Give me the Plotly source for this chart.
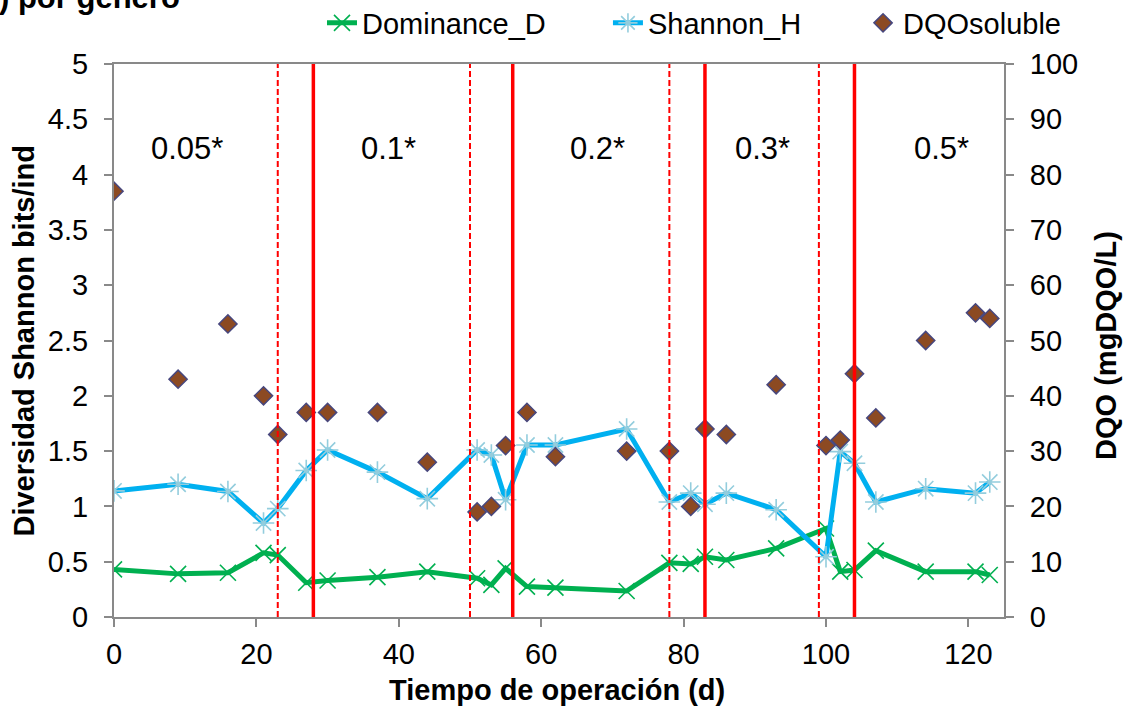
import plotly.graph_objects as go

# ---- data ----
dias = [0, 9, 16, 21, 23, 27, 30, 37, 44, 51, 53, 55, 58, 62, 72, 78, 81, 83, 86, 93,
        100, 102, 104, 107, 114, 121, 123]
dominance_d = [0.43, 0.39, 0.40, 0.58, 0.56, 0.31, 0.33, 0.36, 0.41, 0.35, 0.29, 0.44,
               0.275, 0.265, 0.235, 0.49, 0.48, 0.545, 0.515, 0.62, 0.80, 0.41, 0.425,
               0.60, 0.41, 0.41, 0.38]
shannon_h = [1.14, 1.20, 1.135, 0.85, 0.98, 1.325, 1.51, 1.31, 1.07, 1.51, 1.465, 1.06,
             1.555, 1.555, 1.70, 1.04, 1.12, 1.02, 1.12, 0.97, 0.545, 1.495, 1.39, 1.04,
             1.16, 1.12, 1.22]
dqo_soluble = [77, 43, 53, 40, 33, 37, 37, 37, 28, 19, 20, 31, 37, 29, 30, 30, 20, 34, 33,
               42, 31, 32, 44, 36, 50, 55, 54]

cambio_solido = [28, 56, 83, 104]
cambio_punteado = [23, 50, 78, 99]

etapas = ["0.05*", "0.1*", "0.2*", "0.3*", "0.5*"]
etapas_x = [10.3, 38.6, 67.9, 91.1, 116.2]
etapas_y = 4.24

x_ticks = [0, 20, 40, 60, 80, 100, 120]

FONT = "Liberation Sans, Arial, sans-serif"
GRAY = "#898989"
FS = 29

fig = go.Figure()

fig.add_trace(go.Scatter(
    x=dias, y=dominance_d, name="Dominance_D", mode="lines+markers",
    line=dict(color="#00B050", width=5),
    marker=dict(symbol="x-thin", size=16, color="#00B050",
                line=dict(width=1.6, color="#00B050")),
    legend="legend"))

fig.add_trace(go.Scatter(
    x=dias, y=shannon_h, name="Shannon_H", mode="lines+markers",
    line=dict(color="#00B0F0", width=5),
    marker=dict(symbol="asterisk-open", size=18, color="#93CDDD",
                line=dict(width=1.6, color="#93CDDD")),
    legend="legend2"))

fig.add_trace(go.Scatter(
    x=dias, y=dqo_soluble, name="DQOsoluble", mode="markers", yaxis="y2",
    marker=dict(symbol="diamond", size=14, color="#8C4A22",
                line=dict(width=1.5, color="#47477E")),
    legend="legend3"))

for xv in cambio_solido:
    fig.add_shape(type="line", xref="x", yref="y", x0=xv, x1=xv, y0=0, y1=5,
                  line=dict(color="#FF0000", width=3.5), layer="above")
for xv in cambio_punteado:
    fig.add_shape(type="line", xref="x", yref="y", x0=xv, x1=xv, y0=0, y1=5,
                  line=dict(color="#FF0000", width=2, dash="6px,3px"), layer="above")

for t, xv in zip(etapas, etapas_x):
    fig.add_annotation(x=xv, y=etapas_y, xref="x", yref="y", text=t, showarrow=False,
                       xanchor="center", yanchor="middle",
                       font=dict(size=31, color="black", family=FONT))

# axis titles
fig.add_annotation(x=0.4975, y=-0.132, xref="paper", yref="paper",
                   xanchor="center", yanchor="middle",
                   text="<b>Tiempo de operación (d)</b>", showarrow=False,
                   font=dict(size=FS, color="black", family=FONT))
fig.add_annotation(x=-0.1022, y=0.5, xref="paper", yref="paper", textangle=-90,
                   xanchor="center", yanchor="middle",
                   text="<b>Diversidad Shannon bits/ind</b>", showarrow=False,
                   font=dict(size=FS, color="black", family=FONT))
fig.add_annotation(x=1.1146, y=0.492, xref="paper", yref="paper", textangle=-90,
                   xanchor="center", yanchor="middle",
                   text="<b>DQO (mgDQO/L)</b>", showarrow=False,
                   font=dict(size=FS, color="black", family=FONT))
# cut-off title fragment
fig.add_annotation(x=-0.131, y=1.121, xref="paper", yref="paper", xanchor="left",
                   yanchor="middle", text="<b>) por genero</b>", showarrow=False,
                   font=dict(size=31, color="black", family=FONT))

axis_common = dict(showline=True, linecolor=GRAY, linewidth=2, ticks="outside",
                   ticklen=8, tickwidth=2, tickcolor=GRAY, showgrid=False,
                   zeroline=False, tickfont=dict(size=FS, color="black", family=FONT))

leg_common = dict(orientation="h", yanchor="middle", xanchor="left",
                  font=dict(size=FS, color="black", family=FONT),
                  bgcolor="rgba(0,0,0,0)")

fig.update_layout(
    width=1123, height=715,
    margin=dict(l=114, r=119, t=64, b=98, autoexpand=False),
    paper_bgcolor="white", plot_bgcolor="white",
    font=dict(family=FONT, color="black"),
    xaxis=dict(range=[0, 125], tickvals=x_ticks, mirror=True, ticklabelstandoff=2,
               **axis_common),
    yaxis=dict(range=[0, 5], dtick=0.5, ticklabelstandoff=10, **axis_common),
    yaxis2=dict(range=[0, 100], dtick=10, overlaying="y", side="right",
                ticklabelstandoff=10, **axis_common),
    legend=dict(x=0.2337, y=1.0741, **leg_common),
    legend2=dict(x=0.555, y=1.0741, **leg_common),
    legend3=dict(x=0.8416, y=1.0741, **leg_common),
    showlegend=True,
)

fig.write_html("out.html")
